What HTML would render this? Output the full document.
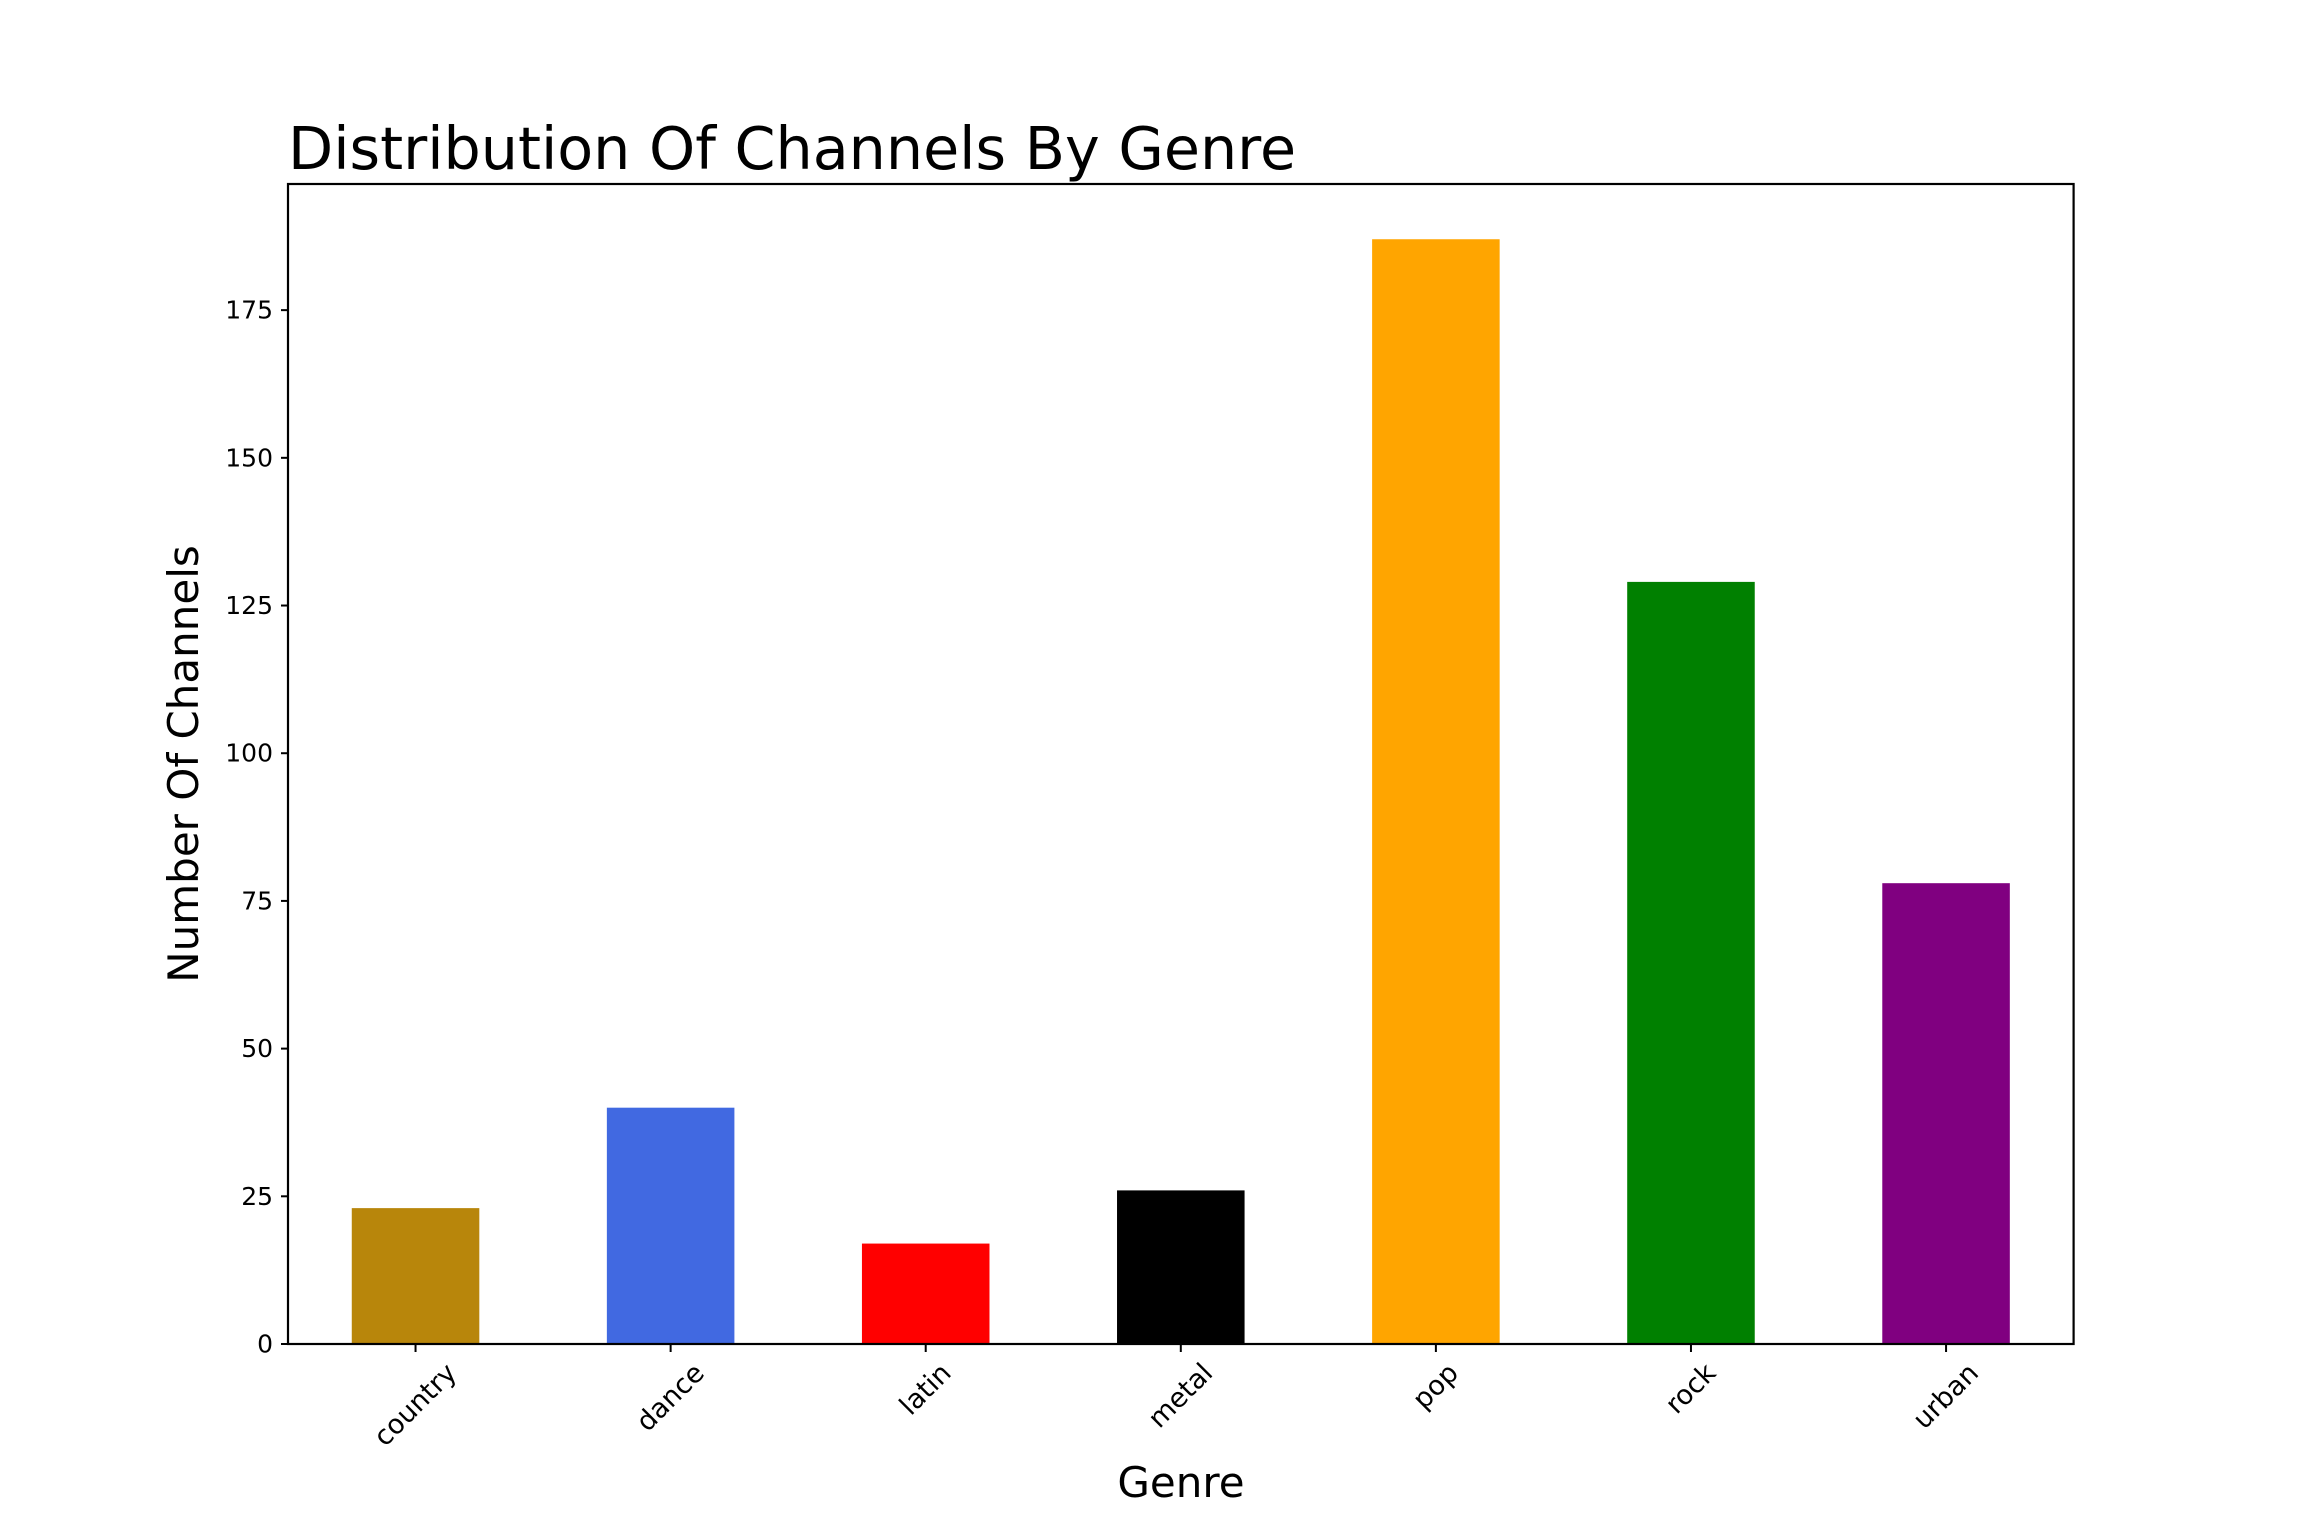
<!DOCTYPE html>
<html><head><meta charset="utf-8"><style>
html,body{margin:0;padding:0;background:#fff;}
svg{display:block;font-family:"DejaVu Sans","Liberation Sans",sans-serif;}
</style></head><body>
<svg id="chart" width="2304" height="1536" viewBox="0 0 2304 1536" xmlns="http://www.w3.org/2000/svg">
<rect width="2304" height="1536" fill="#fff"/>
<text x="288" y="169" font-size="58.7" fill="#000">Distribution Of Channels By Genre</text>
<g id="bars"></g>
<g id="yticks"></g>
<g id="xticks"></g>
<rect x="288" y="184" width="1785.6" height="1160" fill="none" stroke="#000" stroke-width="2.2"/>
<text transform="translate(198,764) rotate(-90)" text-anchor="middle" font-size="42" fill="#000">Number Of Channels</text>
<text x="1181" y="1497" text-anchor="middle" font-size="42" fill="#000">Genre</text>
</svg>
<script>
const categories = ["country","dance","latin","metal","pop","rock","urban"];
const values = [23,40,17,26,187,129,78];
const colors = ["#b8860b","#4169e1","#ff0000","#000000","#ffa500","#008000","#800080"];
const yTicks = [0,25,50,75,100,125,150,175];

const NS="http://www.w3.org/2000/svg";
const L=288,R=2073.6,T=184,B=1344;
const yMax=Math.max(...values)*1.05;
const n=categories.length;
const step=(R-L)/n;
function xPos(i){return L+step*(i+0.5);}
function yPos(v){return B-(v/yMax)*(B-T);}
const bars=document.getElementById('bars');
const yt=document.getElementById('yticks');
const xt=document.getElementById('xticks');
values.forEach((v,i)=>{
  const r=document.createElementNS(NS,'rect');
  
  
  r.setAttribute('x',xPos(i)-step*0.25);
  r.setAttribute('width',step*0.5);
  r.setAttribute('y',yPos(v));
  r.setAttribute('height',B-yPos(v));
  r.setAttribute('fill',colors[i]);
  bars.appendChild(r);
});
yTicks.forEach(t=>{
  const y=yPos(t);
  const l=document.createElementNS(NS,'line');
  
  
  l.setAttribute('x1',L-7);l.setAttribute('x2',L);
  l.setAttribute('y1',y);l.setAttribute('y2',y);
  l.setAttribute('stroke','#000');l.setAttribute('stroke-width','2');
  yt.appendChild(l);
  const tx=document.createElementNS(NS,'text');
  
  
  tx.setAttribute('x',L-15);tx.setAttribute('y',y);
  tx.setAttribute('text-anchor','end');
  tx.setAttribute('dominant-baseline','central');
  tx.setAttribute('font-size','25');
  tx.textContent=t;
  yt.appendChild(tx);
});
categories.forEach((c,i)=>{
  const x=xPos(i);
  const l=document.createElementNS(NS,'line');
  
  
  l.setAttribute('x1',x);l.setAttribute('x2',x);
  l.setAttribute('y1',B);l.setAttribute('y2',B+8);
  l.setAttribute('stroke','#000');l.setAttribute('stroke-width','2');
  xt.appendChild(l);
  const tx=document.createElementNS(NS,'text');
  
  
  tx.setAttribute('font-size','27');
  tx.setAttribute('text-anchor','middle');
  tx.setAttribute('dominant-baseline','central');
  tx.textContent=c;
  xt.appendChild(tx);
  const w=tx.getComputedTextLength();
  const h=27;
  const bh=(w+h)/Math.SQRT2;
  const cy=B+15+bh/2;
  tx.setAttribute('x',x);tx.setAttribute('y',cy);
  tx.setAttribute('transform','rotate(-45 '+x+' '+cy+')');
});
</script>
</body></html>
